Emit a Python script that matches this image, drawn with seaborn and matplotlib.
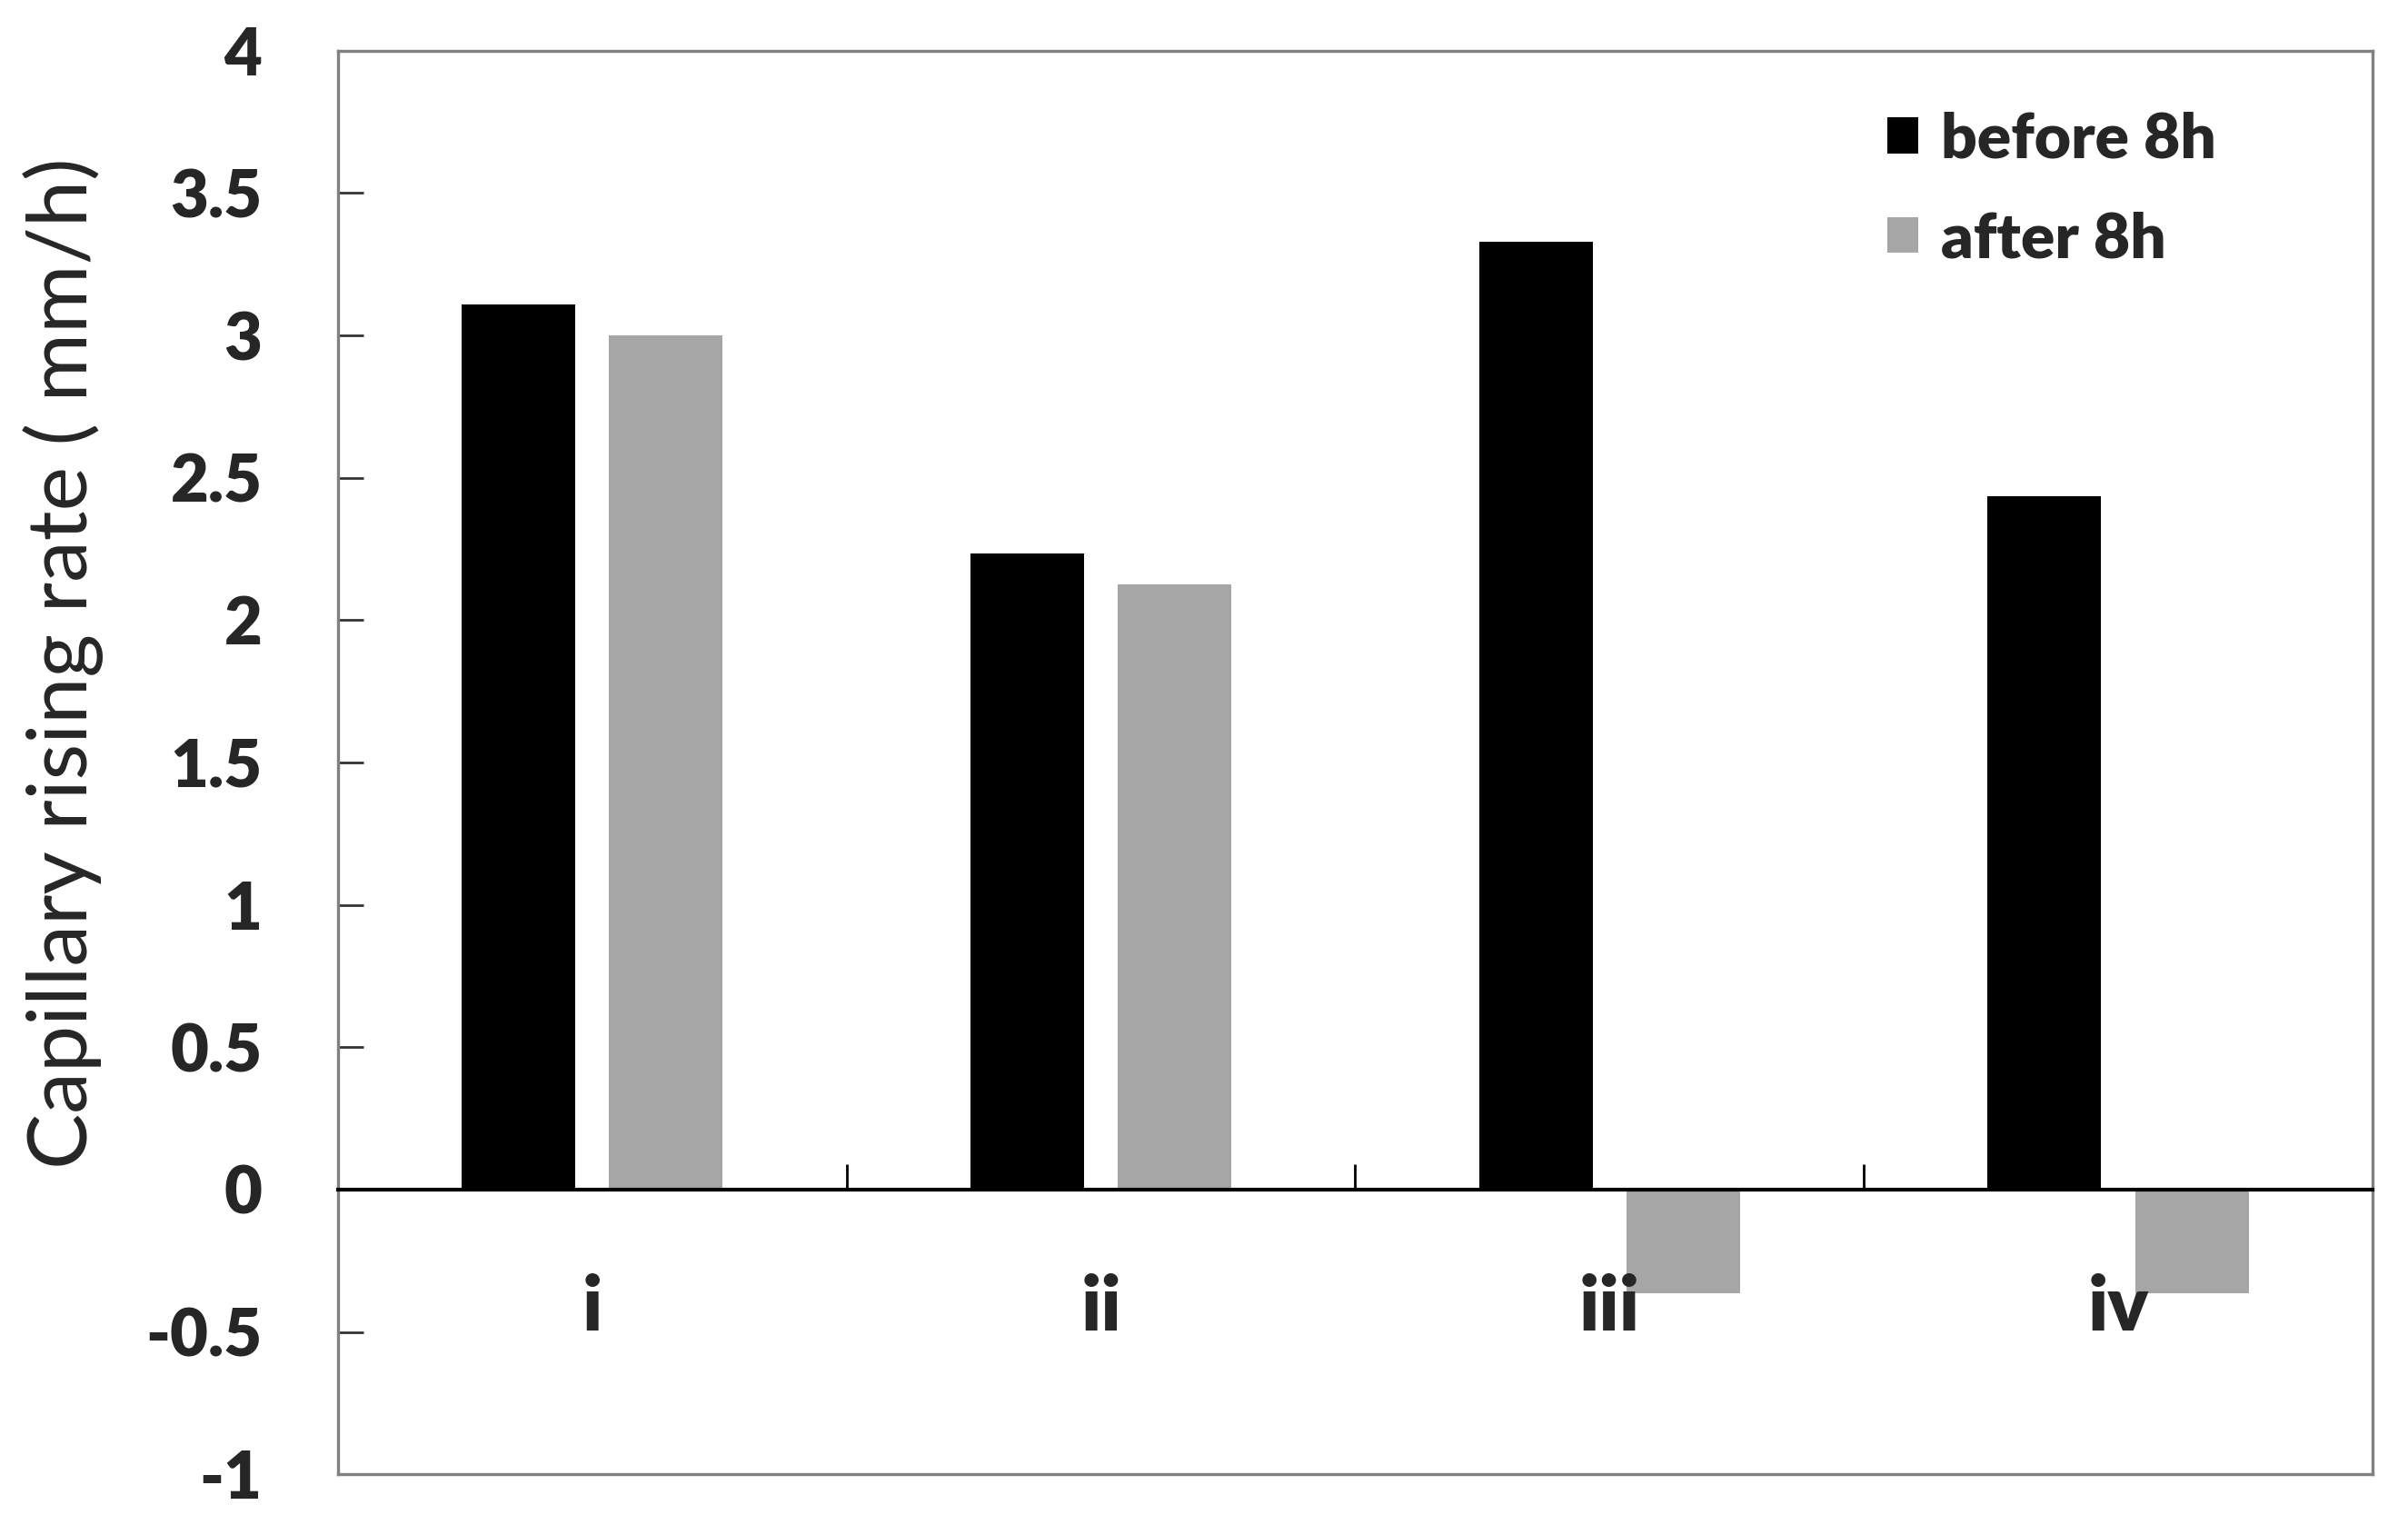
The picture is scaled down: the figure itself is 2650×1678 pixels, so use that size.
import numpy as np
import pandas as pd
import seaborn as sns
import matplotlib.pyplot as plt
from matplotlib.ticker import FixedLocator

# data
samples = ["i", "ii", "iii", "iv"]
before_8h = [3.11, 2.235, 3.33, 2.435]
after_8h = [3.0, 2.125, -0.365, -0.365]
series = ["before 8h", "after 8h"]
colors = ["#000000", "#a6a6a6"]
y_ticks = [-1, -0.5, 0, 0.5, 1, 1.5, 2, 2.5, 3, 3.5, 4]

df = pd.DataFrame({
    "sample": samples * 2,
    "period": [series[0]] * len(samples) + [series[1]] * len(samples),
    "rate": before_8h + after_8h,
})

sns.set_style("white")
plt.rcParams["font.family"] = ["Lato", "DejaVu Sans"]

fig = plt.figure(figsize=(13.25, 8.39), dpi=200)
ax = fig.add_axes([0.1403, 0.0332, 0.845, 0.9336])

sns.barplot(data=df, x="sample", y="rate", hue="period", palette=colors,
            width=0.58, gap=0.23, saturation=1, linewidth=0,
            errorbar=None, ax=ax)

ymin, ymax = -1, 4
ax.set_ylim(ymin, ymax)
ax.set_xlim(-0.5, len(samples) - 0.5)

# frame
for s in ax.spines.values():
    s.set_visible(True)
    s.set_color("#808080")
    s.set_linewidth(1.2)

# y axis
ax.set_yticks(y_ticks, [f"{t:g}" for t in y_ticks], fontsize=26, fontweight="heavy")
ax.tick_params(axis="y", left=True, direction="in", length=10, width=1,
               color="#333333", pad=30)
ax.set_ylabel("Capillary rising rate ( mm/h)", fontsize=33)
ax.yaxis.set_label_coords(-0.115, 0.57)

# hide main x axis, use an axis along y=0 instead
ax.tick_params(axis="x", bottom=False, labelbottom=False)
ax.set_xlabel("")
zero_pos = (0 - ymin) / (ymax - ymin)
sec = ax.secondary_xaxis(zero_pos)
sec.set_zorder(5)
sec.spines["bottom"].set_color("black")
sec.spines["bottom"].set_linewidth(1.5)
sec.set_xticks(range(len(samples)), samples, fontsize=30, fontweight="heavy")
sec.tick_params(axis="x", which="major", length=0, pad=33)
sec.xaxis.set_minor_locator(FixedLocator([k + 0.5 for k in range(len(samples) - 1)]))
sec.tick_params(axis="x", which="minor", direction="in", length=10, width=1, color="black")

# legend
handles, labels = ax.get_legend_handles_labels()
ax.legend(handles, labels, loc="upper left", bbox_to_anchor=(0.749, 0.975),
          frameon=False, prop={"weight": "heavy", "size": 25},
          handlelength=0.5, handleheight=0.5, handletextpad=0.35,
          labelspacing=0.67, borderaxespad=0)

fig.savefig("out.png", dpi=200)
